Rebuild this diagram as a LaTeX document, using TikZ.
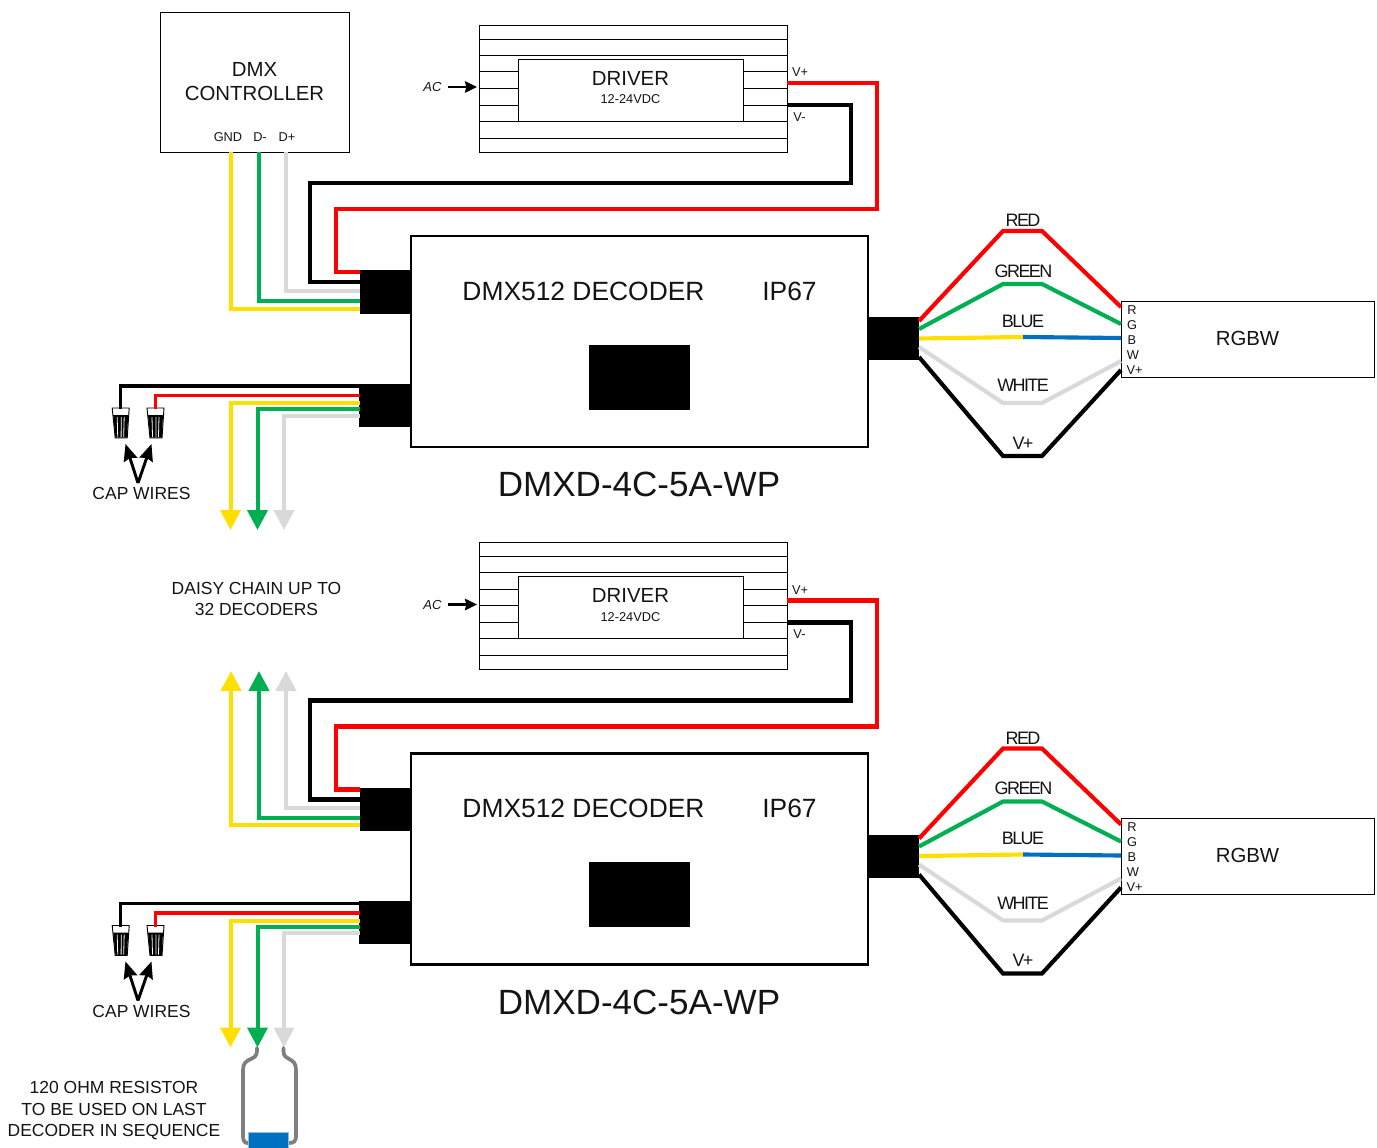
\documentclass[tikz,border=0pt]{standalone}
\usepackage{fontspec}
\setmainfont{Liberation Sans}
\newfontfamily\tightfont[LetterSpace=-9]{Liberation Sans}
\usetikzlibrary{arrows.meta}
\definecolor{wred}{HTML}{FF0000}
\definecolor{wgreen}{HTML}{00B050}
\definecolor{wyellow}{HTML}{FFDF00}
\definecolor{wgrey}{HTML}{D9D9D9}
\definecolor{wblue}{HTML}{0070C0}
\definecolor{rgrey}{HTML}{7F7F7F}
\tikzset{
  px/.style={x=.75pt,y=-.75pt},
  bx/.style={draw=black,line width=.7pt,fill=white,inner sep=0pt,outer sep=0pt},
  blk/.style={draw=none,fill=black,inner sep=0pt,outer sep=0pt},
  lbl/.style={inner sep=0pt,outer sep=0pt,text=black!92},
  tiny/.style={lbl,font=\fontsize{9.6pt}{12pt}\selectfont},
  mid/.style={lbl,font=\fontsize{13.1pt}{16pt}\selectfont},
  big/.style={lbl,font=\fontsize{15.3pt}{18pt}\selectfont},
  huge/.style={lbl,font=\fontsize{19.8pt}{24pt}\selectfont},
  giant/.style={lbl,font=\fontsize{26.3pt}{30pt}\selectfont},
  tlbl/.style={lbl,font=\tightfont\fontsize{13.5pt}{16pt}\selectfont},
  wire/.style={line width=3.1pt,line join=miter},
  thin wire/.style={line width=2.6pt,line join=miter},
  fine wire/.style={line width=3pt,line join=miter},
  tipped/.style={-{Triangle[length=15pt,width=15pt]}},
  capt/.style={line width=2.2pt,-{Stealth[length=12.5pt,width=10.5pt,inset=1.5pt]}},
  acarrow/.style={line width=2pt,-{Stealth[length=9pt,width=8.5pt,inset=1pt]}},
}
% wire cap, centred on x=#1,  top at y=#2
\newcommand{\wirecap}[2]{%
  \begin{scope}[shift={(#1,#2)}]
    \draw[line width=.7pt,fill=white] (-8.5,0) -- (8.5,0) -- (6.5,30) -- (-5.5,30) -- cycle;
    \fill[black] (-7.5,7) -- (7.5,7) -- (6.3,29.5) -- (-5.3,29.5) -- cycle;
    \foreach \u in {-3.5,0.5,3.5}{\draw[white,line width=.6pt] (\u,9) -- (\u*.85,29);}
  \end{scope}}
% one driver + decoder + lamp group; #1 prefix, #2 vertical offset in px
\newcommand{\wireunit}[2]{%
  \begin{scope}[shift={(0,#2)}]
    % driver
    \node[bx,minimum width=308*.75pt,minimum height=127*.75pt] (#1drv) at (633,88.5) {};
    \foreach \yy in {39,55,71.5,88,105,121,138}{\draw[line width=.7pt] (479,\yy) -- (787,\yy);}
    \node[bx,minimum width=225*.75pt,minimum height=62*.75pt] (#1drvin) at (630.5,90) {};
    \node[big] (#1drvt) at (630.5,78) {DRIVER};
    \node[tiny] (#1drvv) at (630.5,99.5) {12-24VDC};
    \node[tiny,font=\fontsize{9.8pt}{12pt}\selectfont\itshape] (#1ac) at (432.5,87.5) {AC};
    \coordinate (#1acin) at (477,87);
    \draw[acarrow] (#1ac.east)++(6,-.5) -- (#1acin);
    \node[tiny] (#1vp) at (800,72.5) {V+};
    \node[tiny] (#1vm) at (799.5,117) {V-};
    % decoder parts
    \node[draw=black,line width=2.1pt,fill=white,inner sep=0pt,outer sep=0pt,minimum width=457*.75pt,minimum height=211*.75pt] (#1dec) at (639.5,341.5) {};
    \node[blk,minimum width=101*.75pt,minimum height=65*.75pt] (#1scr) at (639.5,377) {};
    \node[blk,minimum width=52*.75pt,minimum height=43*.75pt] (#1ca) at (385.5,292) {};
    \node[blk,minimum width=52*.75pt,minimum height=43*.75pt] (#1cb) at (385,405) {};
    \node[blk,minimum width=51*.75pt,minimum height=43*.75pt] (#1cc) at (893.5,338.5) {};
    \node[huge] (#1dect) at (583.5,291) {DMX512 DECODER};
    \node[huge] (#1ip) at (789.5,291) {IP67};
    \node[giant] (#1model) at (639,484.5) {DMXD-4C-5A-WP};
    % power wires
    \coordinate (#1dp) at (787,83);
    \coordinate (#1dm) at (787,105);
    \coordinate (#1ir) at (360,272);
    \coordinate (#1ik) at (360,282);
    \draw[wire,wred] (#1dp) -- (877,83) -- (877,209) -- (336,209) -- (336,272) -- (#1ir);
    \draw[wire,black] (#1dm) -- (851,105) -- (851,183) -- (310,183) -- (310,282) -- (#1ik);
    % outgoing bus and capped wires
    \coordinate (#1okS) at (360,386);
    \coordinate (#1orS) at (360,395.5);
    \coordinate (#1oyS) at (360,403);
    \coordinate (#1ogS) at (360,409);
    \coordinate (#1owS) at (360,415.5);
    \wirecap{120.7}{408}
    \wirecap{155.5}{408}
    \coordinate (#1capk) at (120.5,409);
    \coordinate (#1capr) at (155.5,409);
    \draw[thin wire,black] (#1okS) -- (120.5,386) -- (#1capk);
    \draw[thin wire,wred] (#1orS) -- (155.5,395.5) -- (#1capr);
    \draw[fine wire,wyellow,tipped] (#1oyS) -- (230.5,403) -- (230.5,530);
    \draw[fine wire,wgreen,tipped] (#1ogS) -- (257.5,409) -- (257.5,530);
    \draw[fine wire,wgrey,tipped] (#1owS) -- (284,415.5) -- (284,530);
    \node[mid] (#1capt) at (141.5,493.5) {CAP WIRES};
    \coordinate (#1v) at (138,483);
    \draw[capt] (#1v) -- (125.5,444);
    \draw[capt] (#1v) -- (151.5,444);
    % lamp
    \node[bx,minimum width=253*.75pt,minimum height=76*.75pt] (#1rgbw) at (1247.5,339) {};
    \node[big] (#1rgbwt) at (1247.5,338) {RGBW};
    \node[tiny] (#1lr) at (1132,310) {R};
    \node[tiny] (#1lg) at (1132,325) {G};
    \node[tiny] (#1lb) at (1132,340) {B};
    \node[tiny] (#1lw) at (1133,355) {W};
    \node[tiny] (#1lv) at (1134.5,370) {V+};
    \draw[wire,wred] (919,321) -- (1003,231) -- (1042,231) -- (1121,307);
    \draw[wire,wgreen] (919,329) -- (1003,284) -- (1042,284) -- (1121,324);
    \draw[wire,wyellow] (919,338.5) -- (1023,337);
    \draw[wire,wblue] (1023,337) -- (1121,338);
    \draw[wire,wgrey] (919,347) -- (1003,403) -- (1042,403) -- (1121,361);
    \draw[wire,black] (919,357) -- (1003,456) -- (1042,456) -- (1121,370);
    \node[tlbl] (#1tr) at (1023,220.5) {RED};
    \node[tlbl] (#1tg) at (1023.5,271) {GREEN};
    \node[tlbl] (#1tb) at (1023,321) {BLUE};
    \node[tlbl] (#1tw) at (1023,385.5) {WHITE};
    \node[tlbl] (#1tv) at (1023,443) {V+};
  \end{scope}}
\begin{document}
\begin{tikzpicture}[px]
  \path[use as bounding box] (0,0) rectangle (1377,1148);
  \clip (0,0) rectangle (1377,1148);
  % incoming bus on the first decoder
  \coordinate (ygin) at (360,309);
  \coordinate (ggin) at (360,301);
  \coordinate (wgin) at (360,291);
  \node[bx,minimum width=189*.75pt,minimum height=140*.75pt] (dmx) at (254.5,82) {};
  \node[big,align=center] (dmxt) at (254.5,82) {DMX\\CONTROLLER};
  \node[tiny] (gnd) at (228,137.5) {GND};
  \node[tiny] (dm) at (260,137.5) {D-};
  \node[tiny] (dp) at (287,137.5) {D+};
  \draw[wire,wyellow] (231,152) -- (231,309) -- (ygin);
  \draw[wire,wgreen] (259,152) -- (259,301) -- (ggin);
  \draw[wire,wgrey] (286,152) -- (286,291) -- (wgin);
  % incoming bus on the second decoder
  \coordinate (ygin2) at (360,825);
  \coordinate (ggin2) at (360,818);
  \coordinate (wgin2) at (360,808);
  \draw[wire,wyellow,tipped] (ygin2) -- (231,825) -- (231,671);
  \draw[wire,wgreen,tipped] (ggin2) -- (259,818) -- (259,671);
  \draw[wire,wgrey,tipped] (wgin2) -- (286,808) -- (286,671);
  \wireunit{a}{0}
  \wireunit{b}{517.5}
  \node[mid,align=center,font=\fontsize{13.1pt}{15.8pt}\selectfont] (daisy) at (256.5,599) {DAISY CHAIN UP TO\\32 DECODERS};
  \node[mid,align=center,font=\fontsize{13.1pt}{16.1pt}\selectfont] (resn) at (114,1111) {120 OHM RESISTOR\\TO BE USED ON LAST\\DECODER IN SEQUENCE};
  % resistor
  \node[fill=wblue,draw=wblue!45,line width=.5pt,inner sep=0pt,outer sep=0pt,minimum width=40*.75pt,minimum height=20*.75pt] (res) at (268,1142) {};
  \coordinate (rl) at (257,1048);
  \coordinate (rr) at (283.5,1048);
  \draw[rgrey,line width=2.8pt,line cap=round] (rl) -- (257,1051) .. controls (257,1062) and (243,1056) .. (243,1070) -- (243,1135) .. controls (243,1142) and (245,1143) .. (res.west |- 0,1143);
  \draw[rgrey,line width=2.8pt,line cap=round] (rr) -- (283.5,1051) .. controls (283.5,1062) and (296,1056) .. (296,1070) -- (296,1135) .. controls (296,1142) and (294,1143) .. (res.east |- 0,1143);
  \node[fill=wblue,draw=wblue!45,line width=.5pt,inner sep=0pt,outer sep=0pt,minimum width=40*.75pt,minimum height=20*.75pt] at (res) {};
\end{tikzpicture}
\end{document}
